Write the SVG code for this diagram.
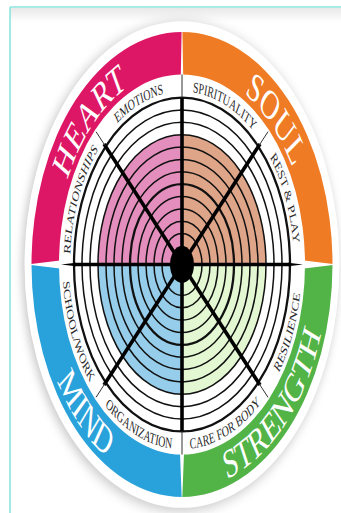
<svg xmlns="http://www.w3.org/2000/svg" width="341" height="513" viewBox="0 0 341 513">
<defs>
<style>
.ring{fill:none;stroke:#111;stroke-width:1.5;vector-effect:non-scaling-stroke}
.ringb{fill:none;stroke:#111;stroke-width:2.3;vector-effect:non-scaling-stroke}
.spoke{stroke:#000;stroke-width:3.6;vector-effect:non-scaling-stroke;stroke-linecap:butt}
.sep{stroke:#333;stroke-width:1;vector-effect:non-scaling-stroke}
.lbl{font-family:"Liberation Serif","Times New Roman",serif;font-size:9.8px;fill:#2a2a2a}
.big{font-family:"Liberation Serif","Times New Roman",serif;font-size:26.5px;fill:#fff}
</style>
<filter id="sh" x="-20%" y="-20%" width="140%" height="140%">
<feGaussianBlur stdDeviation="4"/>
</filter>
<linearGradient id="topfade" x1="0" y1="0" x2="0" y2="1">
<stop offset="0" stop-color="#e8e8e8"/>
<stop offset="1" stop-color="#ffffff"/>
</linearGradient>
<path id="pRel" d="M-88.86,68.18 A112,112 0 0 1 -14.62,-111.04"/>
<path id="pEmo" d="M-111.04,-14.62 A112,112 0 0 1 68.18,-88.86"/>
<path id="pSpi" d="M-68.18,-88.86 A112,112 0 0 1 111.04,-14.62"/>
<path id="pRest" d="M14.62,-111.04 A112,112 0 0 1 88.86,68.18"/>
<path id="pRes" d="M15.59,118.47 A119.5,119.5 0 0 0 94.81,-72.75"/>
<path id="pCare" d="M-72.75,94.81 A119.5,119.5 0 0 0 118.47,15.59"/>
<path id="pOrg" d="M-118.47,15.59 A119.5,119.5 0 0 0 72.75,94.81"/>
<path id="pSch" d="M-94.81,-72.75 A119.5,119.5 0 0 0 -15.59,118.47"/>
<path id="pHeart" d="M-109.99,63.5 A127,127 0 0 1 63.5,-109.99"/>
<path id="pSoul" d="M-63.5,-109.99 A127,127 0 0 1 109.99,63.5"/>
<path id="pMind" d="M-126.44,-73 A146,146 0 0 0 73,126.44"/>
<path id="pStr" d="M-73,126.44 A146,146 0 0 0 126.44,-73"/>
</defs>
<rect width="341" height="513" fill="#fff"/>
<rect x="10" y="8" width="331" height="14" fill="url(#topfade)"/>
<g id="frame" fill="none" stroke="#8be6dc" stroke-width="1.6">
<line x1="10" y1="7" x2="341" y2="7"/>
<line x1="10" y1="7" x2="10" y2="513"/>
</g>
<g transform="translate(182,264.5) scale(1,1.545)">
<circle id="shadow" cx="-2" cy="1.5" r="158" fill="#9a9a9a" opacity="0.55" filter="url(#sh)"/>
<circle r="157.5" fill="#fff"/>
<g id="heart">
<path d="M-150.5,0 A150.5,150.5 0 0 1 0,-150.5 L0,-123 A123,123 0 0 0 -123,0 Z" fill="#dd1766"/>
<text class="big"><textPath href="#pHeart" startOffset="50%" text-anchor="middle">HEART</textPath></text>
</g>
<g id="soul">
<path d="M0,-150.5 A150.5,150.5 0 0 1 150.5,0 L123,0 A123,123 0 0 0 0,-123 Z" fill="#ef7b25"/>
<text class="big"><textPath href="#pSoul" startOffset="50%" text-anchor="middle">SOUL</textPath></text>
</g>
<g id="strength">
<path d="M150.5,0 A150.5,150.5 0 0 1 0,150.5 L0,123 A123,123 0 0 0 123,0 Z" fill="#52b347"/>
<text class="big"><textPath href="#pStr" startOffset="50%" text-anchor="middle">STRENGTH</textPath></text>
</g>
<g id="mind">
<path d="M0,150.5 A150.5,150.5 0 0 1 -150.5,0 L-123,0 A123,123 0 0 0 0,123 Z" fill="#29a2db"/>
<text class="big"><textPath href="#pMind" startOffset="50%" text-anchor="middle">MIND</textPath></text>
</g>
<g id="gaps" fill="#fff">
<polygon points="-1.2,-122 1.2,-122 0.4,-151 -0.4,-151"/>
<polygon points="-2,122 2,122 0.3,151 -0.3,151"/>
<polygon points="-122,-2.6 -122,2.6 -151,0.3 -151,-0.3"/>
<polygon points="122,-2.6 122,2.6 151,0.3 151,-0.3"/>
</g>
<g id="fills">
<path d="M0,0 L-84,0 A84,84 0 0 1 0,-84 Z" fill="#e48ebd"/>
<path d="M0,0 L0,-84 A84,84 0 0 1 84,0 Z" fill="#dfa588"/>
<path d="M0,0 L84,0 A84,84 0 0 1 0,84 Z" fill="#e2f7d2"/>
<path d="M0,0 L0,84 A84,84 0 0 1 -84,0 Z" fill="#95cdea"/>
</g>
<g id="rings">
<circle class="ringb" r="108"/>
<circle class="ring" r="100"/>
<circle class="ring" r="92"/>
<circle class="ring" r="84"/>
<circle class="ring" r="76"/>
<circle class="ring" r="68"/>
<circle class="ring" r="60"/>
<circle class="ringb" r="52"/>
<circle class="ring" r="44"/>
<circle class="ring" r="36"/>
<circle class="ring" r="28"/>
<circle class="ring" r="20"/>
</g>
<g id="connectors">
<line class="spoke" x1="0" y1="-108" x2="0" y2="108"/>
<line class="spoke" x1="-108" y1="0" x2="108" y2="0"/>
<line class="spoke" x1="-78" y1="-78" x2="78" y2="78"/>
<line class="spoke" x1="78" y1="-78" x2="-78" y2="78"/>
<line class="sep" x1="0" y1="-108" x2="0" y2="-123"/>
<line class="sep" x1="0" y1="108" x2="0" y2="123"/>
<polygon points="-106,-1.2 -121,0 -106,1.2" fill="#000"/>
<polygon points="106,-1.2 121,0 106,1.2" fill="#000"/>
<line class="sep" x1="-77" y1="-77" x2="-86" y2="-86"/>
<line class="sep" x1="77" y1="-77" x2="86" y2="-86"/>
<line class="sep" x1="-77" y1="77" x2="-86" y2="86"/>
<line class="sep" x1="77" y1="77" x2="86" y2="86"/>
</g>
<circle id="hub" r="12" fill="#000"/>
<g id="labels">
<text class="lbl"><textPath href="#pRel" startOffset="50%" text-anchor="middle">RELATIONSHIPS</textPath></text>
<text class="lbl"><textPath href="#pEmo" startOffset="50%" text-anchor="middle">EMOTIONS</textPath></text>
<text class="lbl"><textPath href="#pSpi" startOffset="50%" text-anchor="middle">SPIRITUALITY</textPath></text>
<text class="lbl"><textPath href="#pRest" startOffset="50%" text-anchor="middle">REST &amp; PLAY</textPath></text>
<text class="lbl"><textPath href="#pRes" startOffset="50%" text-anchor="middle">RESILIENCE</textPath></text>
<text class="lbl"><textPath href="#pCare" startOffset="50%" text-anchor="middle">CARE FOR BODY</textPath></text>
<text class="lbl"><textPath href="#pOrg" startOffset="50%" text-anchor="middle">ORGANIZATION</textPath></text>
<text class="lbl"><textPath href="#pSch" startOffset="50%" text-anchor="middle">SCHOOL/WORK</textPath></text>
</g>
</g>
</svg>
